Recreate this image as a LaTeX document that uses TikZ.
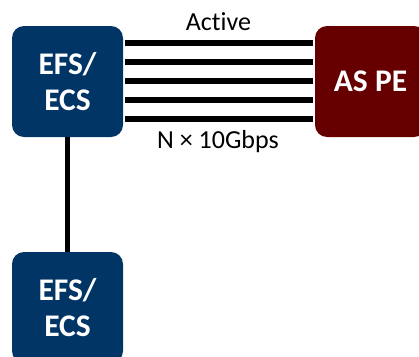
\documentclass[tikz,border=0pt]{standalone}
\usepackage{fontspec}
\setmainfont[Ligatures=NoCommon]{Carlito}
\definecolor{efsblue}{HTML}{013566}
\definecolor{pered}{HTML}{660000}
\tikzset{
  boxbase/.style={rounded corners=12pt, minimum width=111pt, minimum height=111pt, inner sep=0pt,
    text=white, align=center, font=\bfseries\fontsize{31.5}{36}\selectfont},
  bluebox/.style={boxbase, fill=efsblue},
  redbox/.style={boxbase, fill=pered},
  link/.style={line width=5.5pt, black},
  lbl/.style={font=\fontsize{26}{30}\selectfont, anchor=base, inner sep=0pt}
}
\begin{document}
\begin{tikzpicture}[x=1pt,y=-1pt]
\useasboundingbox (0,0) rectangle (419,356);
\clip (0,0) rectangle (419,356);
\node[bluebox] (efs1) at (67.5,81.5) {EFS/\\ECS};
\node[redbox] (aspe) at (370.5,81.5) {AS PE};
\node[bluebox] (efs2) at (67.5,307.5) {EFS/\\ECS};
\foreach \dy in {38.5,19.5,0.5,-18.5,-37.5}{
  \draw[link, shorten <=2pt, shorten >=2pt] ([yshift=\dy pt]efs1.east) -- ([yshift=\dy pt]aspe.west);
}
\draw[link] (efs1.south) -- (efs2.north);
\node[lbl] (active) at (218.5,30) {Active};
\node[lbl] (speed) at (218,148) {N × 10Gbps};
\end{tikzpicture}
\end{document}
